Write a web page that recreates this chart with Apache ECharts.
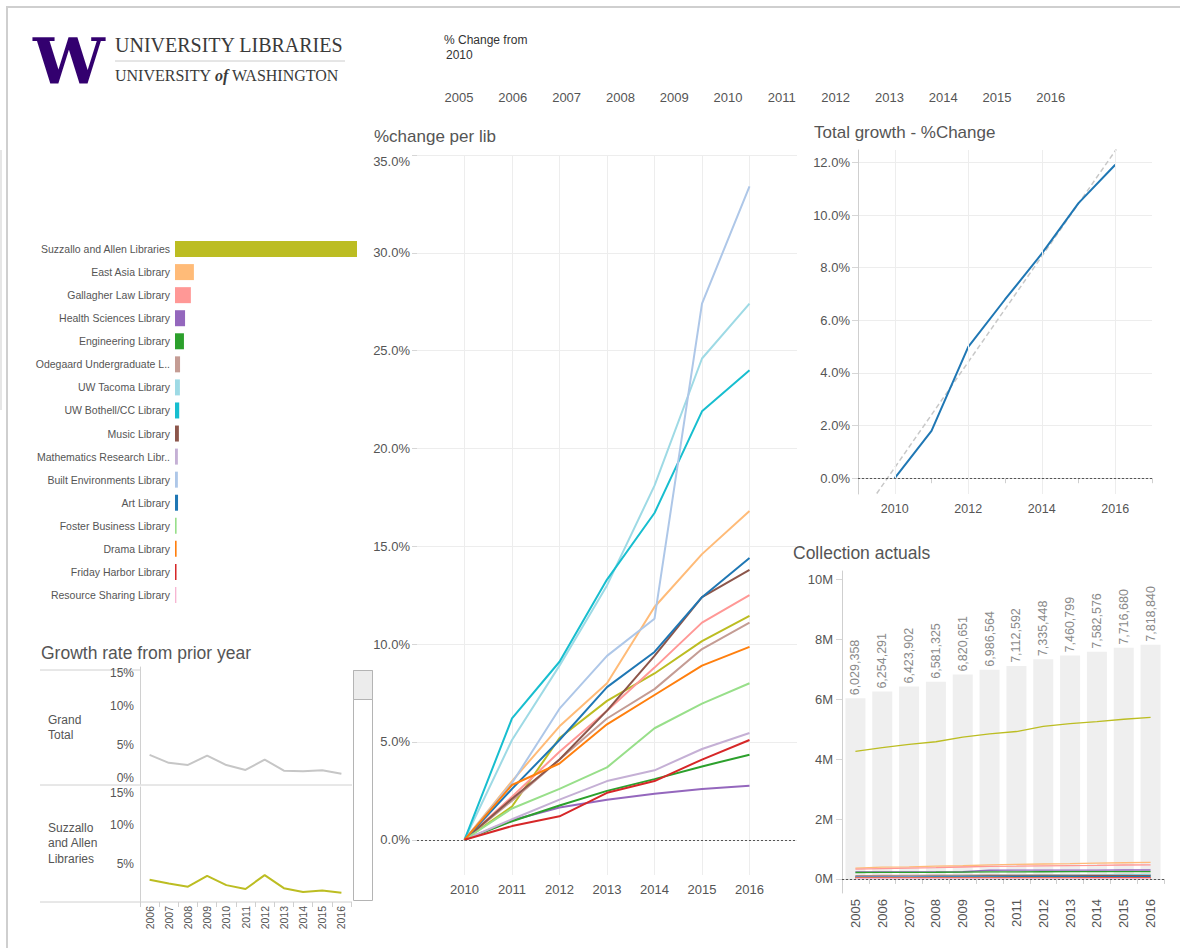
<!DOCTYPE html>
<html>
<head>
<meta charset="utf-8">
<title>UW Libraries - collection growth</title>
<script src="https://cdn.jsdelivr.net/npm/echarts@6/dist/echarts.min.js"></script>
<style>
  html, body { margin: 0; padding: 0; background: #fff; }
  #dash { width: 1180px; height: 948px; }
</style>
</head>
<body>
<div id="dash"></div>
<script>
// ---- data ----
const libNames = ['Suzzallo and Allen Libraries', 'East Asia Library', 'Gallagher Law Library',
  'Health Sciences Library', 'Engineering Library', 'Odegaard Undergraduate L..', 'UW Tacoma Library',
  'UW Bothell/CC Library', 'Music Library', 'Mathematics Research Libr..', 'Built Environments Library',
  'Art Library', 'Foster Business Library', 'Drama Library', 'Friday Harbor Library', 'Resource Sharing Library']
const libColors = ['#bcbd22', '#ffbb78', '#ff9896', '#9467bd', '#2ca02c', '#c49c94', '#9edae5',
  '#17becf', '#8c564b', '#c5b0d5', '#aec7e8', '#1f77b4', '#98df8a', '#ff7f0e', '#d62728', '#f7b6d2']
// collection size, thousands of items (2016)
const libSize = [5393, 560, 470, 298, 265, 150, 145, 125, 115, 85, 85, 90, 48, 48, 45, 40]

// % change from 2010, per library
const pctYears = [2010, 2011, 2012, 2013, 2014, 2015, 2016]
const pctSuzzallo = [0, 1.7, 5.2, 7.1, 8.5, 10.15, 11.45]
const pctEastAsia = [0, 3.0, 5.8, 8.0, 11.9, 14.6, 16.8]
const pctGallagher = [0, 2.2, 4.5, 6.6, 8.8, 11.1, 12.5]
const pctHealth = [0, 1.0, 1.65, 2.05, 2.35, 2.6, 2.76]
const pctEngineering = [0, 0.95, 1.75, 2.5, 3.1, 3.75, 4.35]
const pctOdegaard = [0, 2.0, 4.1, 6.2, 7.7, 9.75, 11.1]
const pctTacoma = [0, 5.1, 8.9, 13.0, 18.1, 24.6, 27.4]
const pctBothell = [0, 6.2, 9.1, 13.3, 16.7, 21.9, 24.0]
const pctMusic = [0, 2.1, 4.1, 6.6, 9.4, 12.4, 13.8]
const pctMath = [0, 1.05, 2.05, 3.0, 3.55, 4.64, 5.46]
const pctBuilt = [0, 2.9, 6.7, 9.4, 11.3, 27.4, 33.4]
const pctArt = [0, 2.6, 5.1, 7.8, 9.6, 12.4, 14.4]
const pctFoster = [0, 1.6, 2.6, 3.7, 5.7, 6.96, 8.0]
const pctDrama = [0, 2.8, 3.9, 5.9, 7.4, 8.9, 9.86]
const pctFriday = [0, 0.7, 1.2, 2.4, 3.0, 4.1, 5.1]
const pctTicks = [0, 5, 10, 15, 20, 25, 30, 35]

// total growth, % change from 2010
const totalPct = [0, 1.80, 4.99, 6.79, 8.53, 10.45, 11.91]
const trendX = [2009.51, 2016.03]
const trendY = [-0.58, 12.5]
const totalTicks = [0, 2, 4, 6, 8, 10, 12]

// collection actuals
const colYears = ['2005', '2006', '2007', '2008', '2009', '2010', '2011', '2012', '2013', '2014', '2015', '2016']
const colTotal = [6029358, 6254291, 6423902, 6581325, 6820651, 6986564, 7112592, 7335448, 7460799, 7582576, 7716680, 7818840]
// per library, thousands of items
const colSuzzallo = [4260, 4384, 4489, 4579, 4735, 4839, 4921, 5091, 5183, 5250, 5330, 5393]
const colEastAsia = [360, 395, 400, 425, 440, 471, 485, 498, 509, 527, 540, 550]
const colGallagher = [330, 345, 360, 375, 398, 418, 427, 437, 446, 455, 464, 470]
const colHealth = [235, 236, 237, 238, 240, 290, 293, 295, 296, 297, 298, 298]
const colEngineering = [215, 217, 219, 222, 226, 235, 237, 239, 241, 243, 244, 245]
const colOdegaard = [110, 114, 118, 122, 128, 135, 138, 140, 143, 145, 148, 150]
const colTacoma = [70, 78, 85, 92, 100, 110, 116, 120, 124, 130, 137, 140]
const colBothell = [55, 62, 70, 78, 88, 97, 103, 106, 110, 113, 118, 120]
const colMusic = [82, 84, 87, 90, 93, 97, 99, 101, 103, 106, 109, 110]
const colMath = [70, 71, 72, 73, 74, 76, 77, 77, 78, 79, 79, 80]
const colBuilt = [52, 54, 55, 57, 58, 60, 62, 64, 66, 67, 76, 80]
const colArt = [58, 60, 62, 64, 67, 70, 72, 74, 76, 77, 79, 80]
const colFoster = [33, 34, 35, 35, 36, 37, 37, 38, 38, 39, 40, 40]
const colDrama = [34, 35, 35, 36, 36, 36, 37, 37, 38, 39, 39, 40]
const colFriday = [27, 28, 28, 28, 29, 29, 29, 29, 29, 30, 30, 30]
const colResource = [20, 20, 20, 20, 20, 20, 20, 20, 20, 20, 20, 20]
const colTicks = [0, 2000000, 4000000, 6000000, 8000000, 10000000]

// growth rate from prior year
const growthYears = ['2006', '2007', '2008', '2009', '2010', '2011', '2012', '2013', '2014', '2015', '2016']
const growthTotal = [3.73, 2.71, 2.45, 3.63, 2.43, 1.80, 3.13, 1.71, 1.63, 1.77, 1.32]
const growthSuzzallo = [2.9, 2.4, 2.0, 3.4, 2.2, 1.7, 3.5, 1.8, 1.3, 1.5, 1.2]

const headerYears = [2005, 2006, 2007, 2008, 2009, 2010, 2011, 2012, 2013, 2014, 2015, 2016]

// ---- chart ----
const FONT = '"Liberation Sans", Arial, sans-serif'
const AX = '#555'
const GRID = '#ededed'
const pctLines = [pctSuzzallo, pctEastAsia, pctGallagher, pctHealth, pctEngineering, pctOdegaard, pctTacoma,
  pctBothell, pctMusic, pctMath, pctBuilt, pctArt, pctFoster, pctDrama, pctFriday]
const colLines = [colSuzzallo, colEastAsia, colGallagher, colHealth, colEngineering, colOdegaard, colTacoma,
  colBothell, colMusic, colMath, colBuilt, colArt, colFoster, colDrama, colFriday, colResource]

function withCommas(n) {
  return String(n).replace(/\B(?=(\d{3})+(?!\d))/g, ',')
}
const zeroLine = {
  silent: true, symbol: 'none', label: { show: false },
  lineStyle: { color: '#555', type: [2, 2], width: 1 },
  data: [{ yAxis: 0 }]
}
function txt(x, y, text, size, opts) {
  return {
    type: 'text', x: x, y: y, silent: true,
    style: Object.assign({ text: text, fill: AX, font: size + 'px ' + FONT, align: 'left', verticalAlign: 'middle' }, opts || {})
  }
}
function hline(x1, x2, y, color, w) {
  return { type: 'line', silent: true, shape: { x1: x1, y1: y, x2: x2, y2: y }, style: { stroke: color, lineWidth: w || 1 } }
}

const chart = echarts.init(document.getElementById('dash'), null, { renderer: 'svg', width: 1180, height: 948 })

const graphics = [
  hline(6, 1180, 7, '#cfcfcf', 2),
  { type: 'line', silent: true, shape: { x1: 7, y1: 6, x2: 7, y2: 948 }, style: { stroke: '#cfcfcf', lineWidth: 2 } },
  { type: 'line', silent: true, shape: { x1: 1, y1: 150, x2: 1, y2: 410 }, style: { stroke: '#e6e6e6', lineWidth: 2 } },
  // logo
  txt(33, 61, 'W', 64, { fill: '#33006f', font: 'bold 64px "DejaVu Serif", serif' }),
  txt(115, 45, 'UNIVERSITY LIBRARIES', 20, { fill: '#3a3a3a', font: '20px "Liberation Serif", serif' }),
  hline(115, 345, 61, '#cccccc', 1),
  {
    type: 'text', x: 115, y: 75, silent: true,
    style: {
      text: '{a|UNIVERSITY }{b|of}{a| WASHINGTON}', verticalAlign: 'middle',
      rich: {
        a: { fill: '#3a3a3a', font: '16px "Liberation Serif", serif' },
        b: { fill: '#3a3a3a', font: 'italic bold 16px "Liberation Serif", serif' }
      }
    }
  },
  txt(444, 40, '% Change from', 12, { fill: '#333' }),
  txt(446, 55, '2010', 12, { fill: '#333' }),
  // titles
  txt(374, 136, '%change per lib', 17),
  txt(814, 132, 'Total growth - %Change', 17),
  txt(793, 553, 'Collection actuals', 17.5),
  txt(41, 653, 'Growth rate from prior year', 17.5),
  // growth panel row headers
  hline(40, 141, 670, '#d0d0d0', 1),
  hline(40, 352, 785, '#d0d0d0', 1),
  hline(40, 352, 902, '#d0d0d0', 1),
  txt(48, 727, 'Grand\nTotal', 12, { lineHeight: 15 }),
  txt(48, 843, 'Suzzallo\nand Allen\nLibraries', 12, { lineHeight: 15.5 }),
  // scroll bar
  { type: 'rect', silent: true, shape: { x: 353.5, y: 670.5, width: 19, height: 230 }, style: { fill: '#fff', stroke: '#b4b4b4', lineWidth: 1 } },
  { type: 'rect', silent: true, shape: { x: 353.5, y: 670.5, width: 19, height: 29 }, style: { fill: '#ececec', stroke: '#b4b4b4', lineWidth: 1 } }
]
headerYears.forEach(function (y, i) {
  graphics.push(txt(459 + i * 53.8, 97, String(y), 13, { align: 'center' }))
})

const series = []
// left bar list
series.push({
  type: 'bar', xAxisIndex: 0, yAxisIndex: 0, barWidth: 16, silent: true,
  data: libSize.map(function (v, i) {
    return { value: v, itemStyle: { color: libColors[i] } }
  })
})
// % change per lib
pctLines.forEach(function (arr, i) {
  series.push({
    type: 'line', name: libNames[i], xAxisIndex: 1, yAxisIndex: 1, showSymbol: false, silent: true,
    lineStyle: { color: libColors[i], width: 2 }, itemStyle: { color: libColors[i] },
    data: pctYears.map(function (y, j) { return [y, arr[j]] }),
    markLine: i === 0 ? zeroLine : undefined
  })
})
// total growth
series.push({
  type: 'line', xAxisIndex: 2, yAxisIndex: 2, showSymbol: false, silent: true, z: 1,
  lineStyle: { color: '#c8c8c8', width: 1.5, type: [5, 3] },
  data: trendX.map(function (x, j) { return [x, trendY[j]] }),
  markLine: {
    silent: true, symbol: 'none', label: { show: false },
    lineStyle: { color: GRID, type: 'solid', width: 1 },
    data: [{ xAxis: 2010 }, { xAxis: 2012 }, { xAxis: 2014 }, { xAxis: 2016 }]
  }
})
series.push({
  type: 'line', xAxisIndex: 2, yAxisIndex: 2, showSymbol: false, silent: true, z: 3,
  lineStyle: { color: '#1f77b4', width: 2 }, itemStyle: { color: '#1f77b4' },
  data: pctYears.map(function (y, j) { return [y, totalPct[j]] }),
  markLine: zeroLine
})
// collection actuals
series.push({
  type: 'bar', xAxisIndex: 3, yAxisIndex: 3, barWidth: 20, silent: true,
  itemStyle: { color: '#efefef' },
  label: {
    show: true, position: 'top', rotate: 90, align: 'left', verticalAlign: 'middle', distance: 3,
    color: '#8a8a8a', fontSize: 12.5, fontFamily: FONT,
    formatter: function (p) { return withCommas(p.value) }
  },
  data: colTotal,
  markLine: zeroLine
})
colLines.forEach(function (arr, i) {
  series.push({
    type: 'line', xAxisIndex: 3, yAxisIndex: 3, showSymbol: false, silent: true,
    lineStyle: { color: libColors[i], width: 1.3 },
    data: arr.map(function (v) { return v * 1000 })
  })
})
// growth rate panels
series.push({
  type: 'line', xAxisIndex: 4, yAxisIndex: 4, showSymbol: false, silent: true,
  lineStyle: { color: '#c6c6c6', width: 2 }, data: growthTotal
})
series.push({
  type: 'line', xAxisIndex: 5, yAxisIndex: 5, showSymbol: false, silent: true,
  lineStyle: { color: '#bcbd22', width: 2 }, data: growthSuzzallo
})

const labelBase = { color: AX, fontFamily: FONT }

chart.setOption({
  animation: false,
  textStyle: { fontFamily: FONT },
  grid: [
    { left: 175, top: 237.5, width: 182, height: 369 },
    { left: 417, top: 155, width: 380, height: 720 },
    { left: 858, top: 150, width: 294, height: 344 },
    { left: 842, top: 571, width: 322, height: 322 },
    { left: 140, top: 667, width: 211, height: 117 },
    { left: 140, top: 787, width: 211, height: 115 }
  ],
  xAxis: [
    { gridIndex: 0, type: 'value', min: 0, max: libSize[0], show: false },
    {
      gridIndex: 1, type: 'value', min: 2009, max: 2017, interval: 1,
      axisLine: { show: false }, axisTick: { show: false, customValues: pctYears },
      axisLabel: Object.assign({ customValues: pctYears, fontSize: 13, margin: 8, formatter: function (v) { return String(v) } }, labelBase),
      splitLine: { show: true, lineStyle: { color: GRID } }
    },
    {
      gridIndex: 2, type: 'value', min: 2009, max: 2017, interval: 1,
      axisLine: { show: true, lineStyle: { color: '#cfcfcf' } },
      axisTick: { show: true, length: 5, lineStyle: { color: '#cfcfcf' } },
      axisLabel: Object.assign({
        fontSize: 12.5, margin: 8,
        formatter: function (v) { return (v % 2 === 0) ? String(v) : '' }
      }, labelBase),
      splitLine: { show: false }
    },
    {
      gridIndex: 3, type: 'category', data: colYears,
      axisLine: { show: true, lineStyle: { color: '#cfcfcf' } },
      axisTick: { show: true, length: 5, lineStyle: { color: '#cfcfcf' } },
      axisLabel: Object.assign({ fontSize: 13, rotate: 90, margin: 6 }, labelBase)
    },
    {
      gridIndex: 4, type: 'category', data: growthYears,
      axisLine: { show: false }, axisTick: { show: false }, axisLabel: { show: false }
    },
    {
      gridIndex: 5, type: 'category', data: growthYears,
      axisLine: { show: false },
      axisTick: { show: true, length: 5, lineStyle: { color: '#cfcfcf' } },
      axisLabel: Object.assign({ fontSize: 10.5, rotate: 90, margin: 4 }, labelBase)
    }
  ],
  yAxis: [
    {
      gridIndex: 0, type: 'category', inverse: true, data: libNames,
      axisLine: { show: false }, axisTick: { show: false },
      axisLabel: Object.assign({ fontSize: 10.5, margin: 5 }, labelBase)
    },
    {
      gridIndex: 1, type: 'value', min: -1.8, max: 35,
      axisLine: { show: false },
      axisTick: { show: true, length: 5, lineStyle: { color: '#d6d6d6' }, customValues: pctTicks },
      axisLabel: Object.assign({
        customValues: pctTicks, fontSize: 13, margin: 7, verticalAlignMaxLabel: 'top',
        formatter: function (v) { return v.toFixed(1) + '%' }
      }, labelBase),
      splitLine: { show: true, lineStyle: { color: GRID } }
    },
    {
      gridIndex: 2, type: 'value', min: -0.6, max: 12.47,
      axisLine: { show: true, lineStyle: { color: '#cfcfcf' } },
      axisTick: { show: true, length: 6, lineStyle: { color: '#d6d6d6' }, customValues: totalTicks },
      axisLabel: Object.assign({
        customValues: totalTicks, fontSize: 13, margin: 8,
        formatter: function (v) { return v.toFixed(1) + '%' }
      }, labelBase),
      splitLine: { show: true, lineStyle: { color: GRID } }
    },
    {
      gridIndex: 3, type: 'value', min: -470000, max: 10280000,
      axisLine: { show: true, lineStyle: { color: '#cfcfcf' } },
      axisTick: { show: true, length: 6, lineStyle: { color: '#d6d6d6' }, customValues: colTicks },
      axisLabel: Object.assign({
        customValues: colTicks, fontSize: 13, margin: 9,
        formatter: function (v) { return (v / 1000000) + 'M' }
      }, labelBase),
      splitLine: { show: false }
    },
    {
      gridIndex: 4, type: 'value', min: 0, max: 15, interval: 5,
      axisLine: { show: true, lineStyle: { color: '#d0d0d0' } }, axisTick: { show: false },
      axisLabel: Object.assign({
        fontSize: 12, margin: 6, verticalAlignMinLabel: 'bottom', verticalAlignMaxLabel: 'top',
        formatter: function (v) { return v + '%' }
      }, labelBase),
      splitLine: { show: false }
    },
    {
      gridIndex: 5, type: 'value', min: 0, max: 15, interval: 5,
      axisLine: { show: true, lineStyle: { color: '#d0d0d0' } }, axisTick: { show: false },
      axisLabel: Object.assign({
        fontSize: 12, margin: 6, verticalAlignMaxLabel: 'top',
        formatter: function (v) { return v === 0 ? '' : v + '%' }
      }, labelBase),
      splitLine: { show: false }
    }
  ],
  graphic: graphics,
  series: series
})
</script>
</body>
</html>
